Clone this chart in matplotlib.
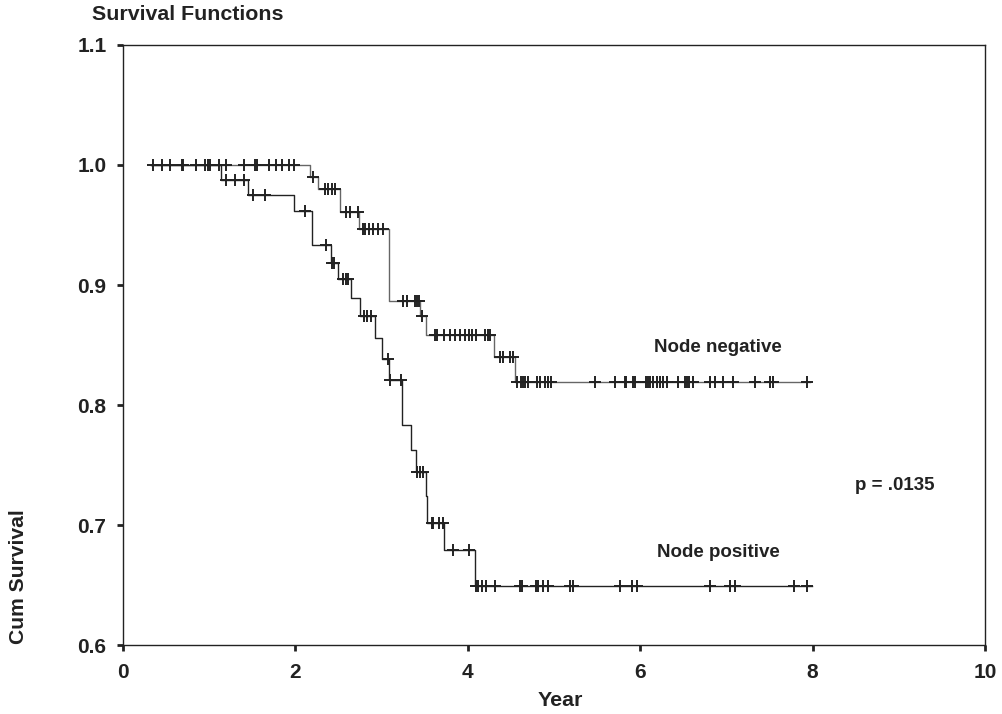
import numpy as np
import matplotlib
matplotlib.use("Agg")
import matplotlib.pyplot as plt

# ---- data: step changes (time, survival after the step) ----
neg_times = [0.33, 2.17, 2.26, 2.52, 2.74, 3.08, 3.44, 3.52, 4.30, 4.55, 7.97]
neg_surv = [1.0, 0.990, 0.980, 0.961, 0.947, 0.887, 0.874, 0.858, 0.840, 0.819, 0.819]
neg_censor = [0.35, 0.45, 0.55, 0.68, 0.70, 0.85, 1.20, 1.40, 1.53, 1.55, 1.69, 1.77,
              1.84, 1.92, 1.98, 2.20, 2.34, 2.38, 2.42, 2.46, 2.59, 2.63, 2.73,
              2.78, 2.81, 2.85, 2.90, 2.96, 3.02, 3.25, 3.29, 3.39, 3.41, 3.43, 3.47,
              3.62, 3.64, 3.72, 3.79, 3.85, 3.91, 3.97, 4.01, 4.05, 4.10, 4.20, 4.23,
              4.26, 4.37, 4.41, 4.49, 4.53, 4.57, 4.62, 4.64, 4.66, 4.70, 4.80, 4.84,
              4.90, 4.93, 4.97, 5.48, 5.71, 5.82, 5.84, 5.92, 5.94, 6.07, 6.09, 6.11,
              6.15, 6.19, 6.23, 6.27, 6.31, 6.44, 6.52, 6.54, 6.57, 6.61, 6.81, 6.87,
              6.96, 7.08, 7.33, 7.51, 7.54, 7.93]

pos_times = [0.33, 1.14, 1.45, 1.98, 2.19, 2.41, 2.49, 2.65, 2.75, 2.92, 3.00, 3.08,
             3.24, 3.34, 3.40, 3.52, 3.53, 3.72, 4.08, 7.99]
pos_surv = [1.0, 0.9875, 0.975, 0.962, 0.933, 0.918, 0.905, 0.889, 0.874, 0.856,
            0.838, 0.821, 0.783, 0.7625, 0.744, 0.724, 0.702, 0.679, 0.6495, 0.6495]
pos_censor = [0.95, 0.98, 1.01, 1.11, 1.20, 1.30, 1.40, 1.51, 1.65, 2.11, 2.36, 2.43,
              2.45, 2.55, 2.59, 2.61, 2.79, 2.83, 2.88, 3.07, 3.10, 3.23, 3.41, 3.44,
              3.48, 3.58, 3.60, 3.66, 3.71, 3.83, 4.01, 4.10, 4.12, 4.17, 4.21, 4.32,
              4.61, 4.63, 4.79, 4.81, 4.87, 4.93, 5.19, 5.22, 5.76, 5.90, 5.96, 6.81,
              7.04, 7.10, 7.78, 7.93]

x_ticks = [0, 2, 4, 6, 8, 10]
y_ticks = [0.6, 0.7, 0.8, 0.9, 1.0, 1.1]


def surv_at(t, times, surv):
    idx = np.searchsorted(times, t, side="right") - 1
    return np.asarray(surv)[idx]


plt.rcParams['font.family'] = ['Liberation Sans', 'DejaVu Sans']
plt.rcParams['font.weight'] = 'bold'
INK = '#222222'

fig = plt.figure(figsize=(10.02, 7.14), dpi=100)
ax = fig.add_axes([0.1228, 0.0966, 0.8602, 0.8404])

ax.step(neg_times, neg_surv, where='post', color='#666666', lw=1.0)
ax.step(pos_times, pos_surv, where='post', color='#222222', lw=1.0)

nc = np.array(neg_censor)
pc = np.array(pos_censor)
ax.plot(nc, surv_at(nc, neg_times, neg_surv), ls='none', marker='+', ms=8,
        mew=1.4, color=INK)
ax.plot(pc, surv_at(pc, pos_times, pos_surv), ls='none', marker='+', ms=8,
        mew=1.4, color=INK)

ax.set_xlim(0, 10)
ax.set_ylim(0.6, 1.1)
ax.set_xticks(x_ticks)
ax.set_xticklabels([str(v) for v in x_ticks])
ax.set_yticks(y_ticks)
ax.set_yticklabels([f"{v:.1f}" for v in y_ticks])
ax.tick_params(axis='both', labelsize=15, width=2, length=4, direction='out',
               color=INK, labelcolor=INK)
ax.tick_params(axis='x', pad=9)
ax.tick_params(axis='y', pad=8)
for s in ax.spines.values():
    s.set_linewidth(1.0)
    s.set_color(INK)

ax.text(6.16, 0.848, "Node negative", fontsize=13.5, fontweight='bold',
        color=INK, va='center', ha='left')
ax.text(6.2, 0.677, "Node positive", fontsize=13.5, fontweight='bold',
        color=INK, va='center', ha='left')
ax.text(8.49, 0.733, "p = .0135", fontsize=13.5, fontweight='bold',
        color=INK, va='center', ha='left')

fig.text(560 / 1002, 1 - 700 / 714, "Year", fontsize=15.4, fontweight='bold',
         color=INK, ha='center', va='center')
fig.text(92 / 1002, 1 - 15 / 714, "Survival Functions", fontsize=15.4,
         fontweight='bold', color=INK, ha='left', va='center')
fig.text(19 / 1002, 1 - 644 / 714, "Cum Survival", fontsize=15.2, fontweight='bold',
         color=INK, rotation=90, ha='center', va='bottom')

fig.savefig("out.png", dpi=100)
